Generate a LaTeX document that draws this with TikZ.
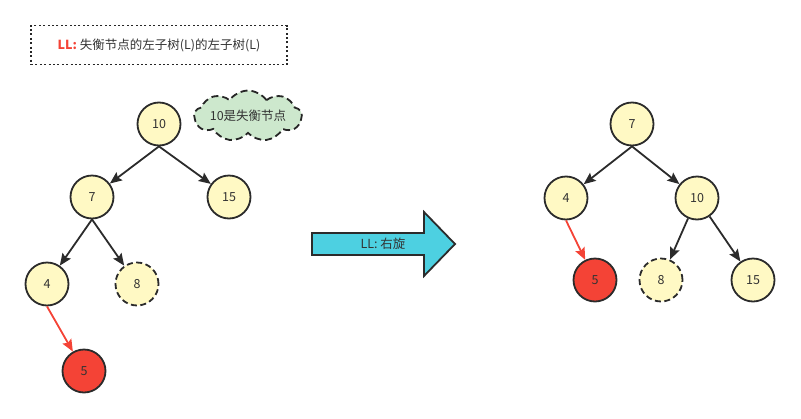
\documentclass[tikz,border=0pt]{standalone}
\usepackage{fontspec}
\setmainfont{Noto Sans CJK SC}
\usetikzlibrary{shapes.symbols,arrows.meta}
\definecolor{nodeyellow}{HTML}{FFF9C4}
\definecolor{nodered}{HTML}{F44336}
\definecolor{linegray}{HTML}{2B2B2B}
\definecolor{cloudgreen}{HTML}{CDE8CD}
\definecolor{arrowcyan}{HTML}{4DD0E1}
\definecolor{txtgray}{HTML}{333333}
\tikzset{
  tnode/.style={circle, draw=linegray, line width=1.8pt, fill=nodeyellow, minimum size=43pt, inner sep=0pt, text=txtgray, font=\fontsize{12.5}{14}\selectfont},
  rednode/.style={tnode, fill=nodered},
  dashnode/.style={tnode, dashed, dash pattern=on 6pt off 3.5pt},
  edge/.style={draw=linegray, line width=1.8pt, -{Stealth[length=12pt,width=10pt,inset=2pt]}},
  redge/.style={draw=nodered, line width=1.8pt, -{Stealth[length=12pt,width=10pt,inset=2pt]}},
}
\begin{document}
\begin{tikzpicture}[x=1pt,y=-1pt]
\useasboundingbox (0,0) rectangle (801,418);
% title box
\node[draw=black!85, line width=1.8pt, dash pattern=on 2pt off 2.4pt, minimum width=256pt, minimum height=39pt, inner sep=0pt, font=\fontsize{12.5}{14}\selectfont, text=txtgray] (title) at (159,45) {\textcolor{nodered}{\textbf{LL:}} 失衡节点的左子树(L)的左子树(L)};
% left tree
\node[tnode] (a10) at (159,124) {10};
\node[tnode] (a7) at (92,197) {7};
\node[tnode] (a15) at (229,197) {15};
\node[tnode] (a4) at (47,284) {4};
\node[dashnode] (a8) at (137,284) {8};
\node[rednode] (a5) at (84,371) {5};
\node[cloud, cloud puffs=9, cloud puff arc=110, aspect=3.2, draw=black!85, line width=1.8pt, dashed, dash pattern=on 7pt off 4pt, fill=cloudgreen, minimum width=96pt, minimum height=30pt, inner sep=0pt, font=\fontsize{12.5}{14}\selectfont, text=txtgray] (cloud) at (248,116) {10是失衡节点};
\draw[edge] (a10.south) -- (a7);
\draw[edge] (a10.south) -- (a15);
\draw[edge] (a7.south) -- (a4);
\draw[edge] (a7.south) -- (a8);
\draw[redge] (a4.south) -- (a5);
% big arrow
\draw[draw=linegray, line width=1.8pt, fill=arrowcyan, line join=miter] (312,233) -- (424,233) -- (424,212) -- (455,244) -- (424,276) -- (424,255) -- (312,255) -- cycle;
\node[font=\fontsize{12.5}{14}\selectfont, text=txtgray, inner sep=0pt] (arrowlbl) at (383,244) {LL: 右旋};
% right tree
\node[tnode] (b7) at (632,124) {7};
\node[tnode] (b4) at (566,198) {4};
\node[tnode] (b10) at (697,198) {10};
\node[rednode] (b5) at (595,280) {5};
\node[dashnode] (b8) at (661,280) {8};
\node[tnode] (b15) at (753,280) {15};
\draw[edge] (b7.south) -- (b4);
\draw[edge] (b7.south) -- (b10);
\draw[edge] (b10) -- (b8);
\draw[edge] (b10) -- (b15);
\draw[redge] (b4.south) -- (b5);
\end{tikzpicture}
\end{document}
